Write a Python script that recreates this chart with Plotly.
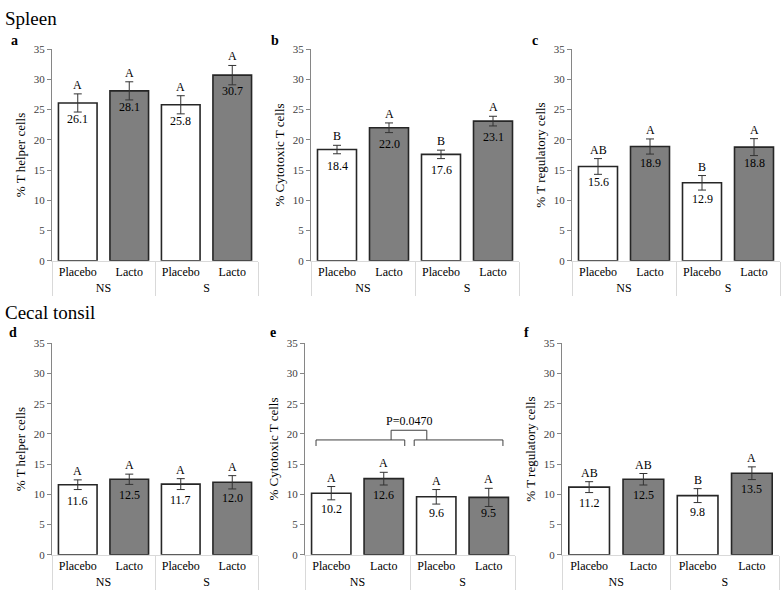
import plotly.graph_objects as go

W, H = 784, 604

groups = ["NS", "NS", "S", "S"]
treatments = ["Placebo", "Lacto", "Placebo", "Lacto"]

a_vals = [26.1, 28.1, 25.8, 30.7]
a_err = [1.5, 1.5, 1.5, 1.6]
a_let = ["A", "A", "A", "A"]

b_vals = [18.4, 22.0, 17.6, 23.1]
b_err = [0.7, 0.8, 0.7, 0.8]
b_let = ["B", "A", "B", "A"]

c_vals = [15.6, 18.9, 12.9, 18.8]
c_err = [1.3, 1.25, 1.2, 1.4]
c_let = ["AB", "A", "B", "A"]

d_vals = [11.6, 12.5, 11.7, 12.0]
d_err = [0.8, 0.85, 0.9, 1.1]
d_let = ["A", "A", "A", "A"]

e_vals = [10.2, 12.6, 9.6, 9.5]
e_err = [1.1, 1.05, 1.2, 1.5]
e_let = ["A", "A", "A", "A"]

f_vals = [11.2, 12.5, 9.8, 13.5]
f_err = [0.9, 0.95, 1.15, 1.05]
f_let = ["AB", "AB", "B", "A"]

y_titles = ["% T helper cells", "% Cytotoxic T cells", "% T regulatory cells",
            "% T helper cells", "% Cytotoxic T cells", "% T regulatory cells"]
panel_letters = ["a", "b", "c", "d", "e", "f"]
section_titles = ["Spleen", "Cecal tonsil"]
y_ticks = [0, 5, 10, 15, 20, 25, 30, 35]

# bracket in panel e (x in category index units, y in data units)
bracket_left = [-0.29, 1.40]
bracket_right = [1.58, 3.27]
bracket_mid = [1.14, 1.82]
bracket_low_y = [18.0, 19.0]
bracket_mid_y = [19.0, 20.6]
p_text = "P=0.0470"

panels = [
    (a_vals, a_err, a_let), (b_vals, b_err, b_let), (c_vals, c_err, c_let),
    (d_vals, d_err, d_let), (e_vals, e_err, e_let), (f_vals, f_err, f_let),
]

# pixel layout of each plot area: (left, right, top, bottom)
boxes = [
    (52, 258, 44, 260), (311, 519, 44, 260), (572, 780, 44, 260),
    (52, 258, 344, 560), (305, 515, 344, 560), (562, 779, 344, 560),
]
letter_pos = [(14, 35), (275, 35), (535, 35), (13, 333), (273, 333), (526, 333)]
section_pos = [(3, 13), (3, 313)]

FONT = "Liberation Serif, Times New Roman, DejaVu Serif, serif"
fill_colors = ["#ffffff", "#7f7f7f", "#ffffff", "#7f7f7f"]

fig = go.Figure()
annotations = []
shapes = []

for i, ((vals, errs, lets), (l, r, t, b)) in enumerate(zip(panels, boxes), start=1):
    xa = "x" if i == 1 else f"x{i}"
    ya = "y" if i == 1 else f"y{i}"
    fig.add_trace(go.Bar(
        x=[groups, treatments], y=vals,
        marker=dict(color=fill_colors, line=dict(color="#262626", width=1.6)),
        error_y=dict(type="data", array=errs, color="#333333", thickness=1, width=4),
        xaxis=xa, yaxis=ya, showlegend=False, hoverinfo="y",
    ))
    xkey = "xaxis" if i == 1 else f"xaxis{i}"
    ykey = "yaxis" if i == 1 else f"yaxis{i}"
    fig.layout[xkey] = dict(
        domain=[l / W, r / W], anchor=ya, type="multicategory",
        showline=True, linecolor="#d9d9d9", linewidth=1, ticks="",
        showdividers=True, dividercolor="#d9d9d9", dividerwidth=1,
        tickfont=dict(family=FONT, size=12, color="#000000"),
        showgrid=False, zeroline=False, fixedrange=True,
    )
    fig.layout[ykey] = dict(
        domain=[1 - b / H, 1 - t / H], anchor=xa, range=[0, 35],
        tickvals=y_ticks, showline=True, linecolor="#868686", linewidth=1,
        ticks="outside", ticklen=4, tickcolor="#868686",
        tickfont=dict(family=FONT, size=11, color="#404040"),
        title=dict(text=y_titles[i - 1], font=dict(family=FONT, size=13, color="#000000"), standoff=5),
        showgrid=False, zeroline=False, fixedrange=True,
    )
    for j, (v, e, s) in enumerate(zip(vals, errs, lets)):
        annotations.append(dict(
            x=j, y=v + e, xref=xa, yref=ya, text=s, showarrow=False,
            yanchor="bottom", yshift=0, font=dict(family=FONT, size=12, color="#000000"),
        ))
        annotations.append(dict(
            x=j, y=v, xref=xa, yref=ya, text=f"{v:.1f}", showarrow=False,
            yanchor="top", yshift=-7, font=dict(family=FONT, size=12, color="#000000"),
        ))
    lx, ly = letter_pos[i - 1]
    annotations.append(dict(
        x=lx / W, y=1 - ly / H, xref="paper", yref="paper", text=f"<b>{panel_letters[i - 1]}</b>",
        showarrow=False, xanchor="center", yanchor="middle",
        font=dict(family=FONT, size=14, color="#000000"),
    ))

for txt, (sx, sy) in zip(section_titles, section_pos):
    annotations.append(dict(
        x=sx / W, y=1 - sy / H, xref="paper", yref="paper", text=txt, showarrow=False,
        xanchor="left", yanchor="middle", font=dict(family=FONT, size=19, color="#000000"),
    ))

# bracket in panel e
line_style = dict(color="#404040", width=1)
def bracket(xs, ys):
    x0, x1 = xs
    y0, y1 = ys
    return [
        dict(type="line", xref="x5", yref="y5", x0=x0, x1=x0, y0=y0, y1=y1, line=line_style),
        dict(type="line", xref="x5", yref="y5", x0=x0, x1=x1, y0=y1, y1=y1, line=line_style),
        dict(type="line", xref="x5", yref="y5", x0=x1, x1=x1, y0=y1, y1=y0, line=line_style),
    ]
shapes += bracket(bracket_left, bracket_low_y)
shapes += bracket(bracket_right, bracket_low_y)
shapes += bracket(bracket_mid, bracket_mid_y)
annotations.append(dict(
    x=sum(bracket_mid) / 2, y=bracket_mid_y[1], xref="x5", yref="y5", text=p_text,
    showarrow=False, yanchor="bottom", font=dict(family=FONT, size=12, color="#000000"),
))

fig.update_layout(
    width=W, height=H, margin=dict(l=0, r=0, t=0, b=0),
    paper_bgcolor="#ffffff", plot_bgcolor="#ffffff",
    bargap=0.25, annotations=annotations, shapes=shapes,
    font=dict(family=FONT, color="#000000"),
)

fig.write_html(
    "out.html",
    config={"displayModeBar": False},
    post_script="document.body.style.margin='0';document.body.style.overflow='hidden';",
)
